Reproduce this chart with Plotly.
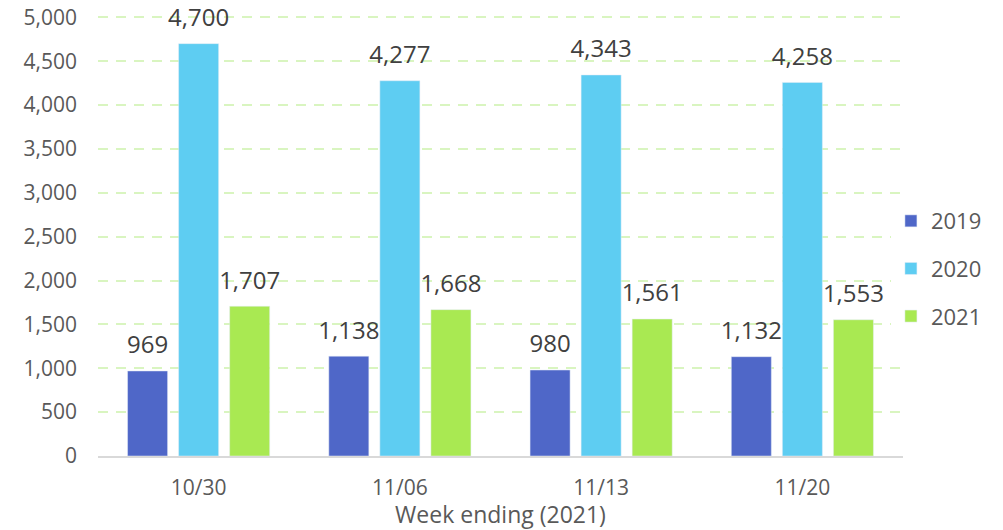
import plotly.graph_objects as go

categories = ["10/30", "11/06", "11/13", "11/20"]
series_names = ["2019", "2020", "2021"]
v2019 = [969, 1138, 980, 1132]
v2020 = [4700, 4277, 4343, 4258]
v2021 = [1707, 1668, 1561, 1553]
colors = ["#4F67C8", "#5ECDF2", "#A9E952"]

fig = go.Figure()
for name, vals, c in zip(series_names, [v2019, v2020, v2021], colors):
    fig.add_trace(go.Bar(
        x=categories, y=vals, name=name, marker_color=c,
        offsetgroup=name, legendgroup=name, hoverinfo="x+y",
    ))
for name, vals in zip(series_names, [v2019, v2020, v2021]):
    fig.add_trace(go.Scatter(
        x=categories, y=vals, mode="markers+text", offsetgroup=name,
        text=[f"{v:,}" for v in vals], textposition="top center",
        marker=dict(size=17, opacity=0), showlegend=False, hoverinfo="skip",
        textfont=dict(size=24, color="#404040"), cliponaxis=False,
    ))

fig.update_layout(
    width=1003, height=530,
    margin=dict(l=98, r=100, t=16, b=74, autoexpand=False),
    paper_bgcolor="white", plot_bgcolor="white",
    font=dict(family="Open Sans, Liberation Sans, sans-serif", color="#595959", size=22),
    barmode="group", bargap=0.239, bargroupgap=0.216,
    scattermode="group", scattergap=0.239,
    legend=dict(x=0.985, y=0.426, yanchor="middle", xanchor="left",
                font=dict(size=22, color="#595959"), itemwidth=30, tracegroupgap=16),
    xaxis=dict(showline=True, linecolor="#D9D9D9", linewidth=2, ticks="",
               tickfont=dict(size=21), automargin=False, ticklabelstandoff=12,
               title=dict(text="Week ending (2021)", font=dict(size=23), standoff=3)),
    yaxis=dict(range=[0, 5015], tickvals=[0, 500, 1000, 1500, 2000, 2500, 3000, 3500, 4000, 4500, 5000],
               tickformat=",", showgrid=True, ticklabeloverflow="allow",
               gridcolor="#D9F5C0", griddash="10px,8px", gridwidth=1.5, automargin=False,
               zeroline=False, tickfont=dict(size=21), ticklen=0, ticks="",
               ticklabelstandoff=20),
)
fig.write_html("out.html", config={"displayModeBar": False},
               post_script="document.body.style.margin='0';")
